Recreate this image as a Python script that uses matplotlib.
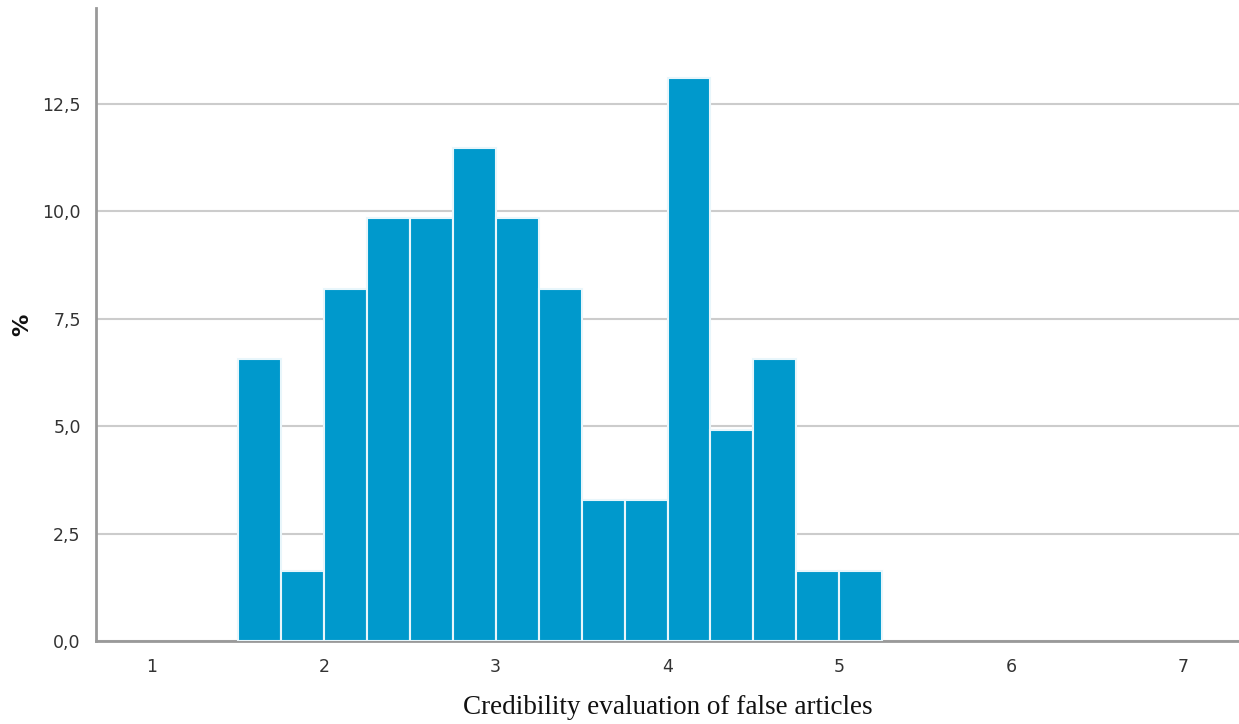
import matplotlib
matplotlib.use("Agg")
import matplotlib.pyplot as plt
import numpy as np

bin_edges = [1.5, 1.75, 2.0, 2.25, 2.5, 2.75, 3.0, 3.25, 3.5, 3.75, 4.0, 4.25, 4.5, 4.75, 5.0, 5.25]
percent = [6.56, 1.64, 8.20, 9.84, 9.84, 11.48, 9.84, 8.20, 3.28, 3.28, 13.11, 4.92, 6.56, 1.64, 1.64]
x_ticks = [1, 2, 3, 4, 5, 6, 7]
y_ticks = [0.0, 2.5, 5.0, 7.5, 10.0, 12.5]
y_tick_labels = ["0,0", "2,5", "5,0", "7,5", "10,0", "12,5"]

fig = plt.figure(figsize=(12.39, 7.24), dpi=100)
ax = fig.add_axes([0.0775, 0.1146, 0.9225, 0.8744])

lefts = np.array(bin_edges[:-1])
widths = np.diff(bin_edges)
ax.bar(lefts, percent, width=widths, align="edge", color="#0099CC",
       edgecolor="#E8F6FB", linewidth=1.5, zorder=3)

ax.set_xlim(0.675, 7.325)
ax.set_ylim(0, 14.73)
ax.set_yticks(y_ticks)
ax.set_yticklabels(y_tick_labels)
ax.set_xticks(x_ticks)
ax.set_xticklabels([str(t) for t in x_ticks])
ax.tick_params(axis="both", length=0, labelsize=12.5, labelcolor="#333333")
ax.tick_params(axis="x", pad=12)
ax.tick_params(axis="y", pad=11)

ax.grid(axis="y", color="#CCCCCC", linewidth=1.5, zorder=0)
ax.set_axisbelow(True)
for s in ["top", "right"]:
    ax.spines[s].set_visible(False)
for s in ["left", "bottom"]:
    ax.spines[s].set_color("#999999")
    ax.spines[s].set_linewidth(2)

ax.set_xlabel("Credibility evaluation of false articles", family="Liberation Serif",
              fontsize=19.5, color="#111111", labelpad=14)
fig.text(22 / 1239, 1 - 325 / 724, "%", rotation=90, ha="center", va="center",
         fontsize=16, fontweight="bold", color="#111111")

fig.savefig("out.png", dpi=100)
